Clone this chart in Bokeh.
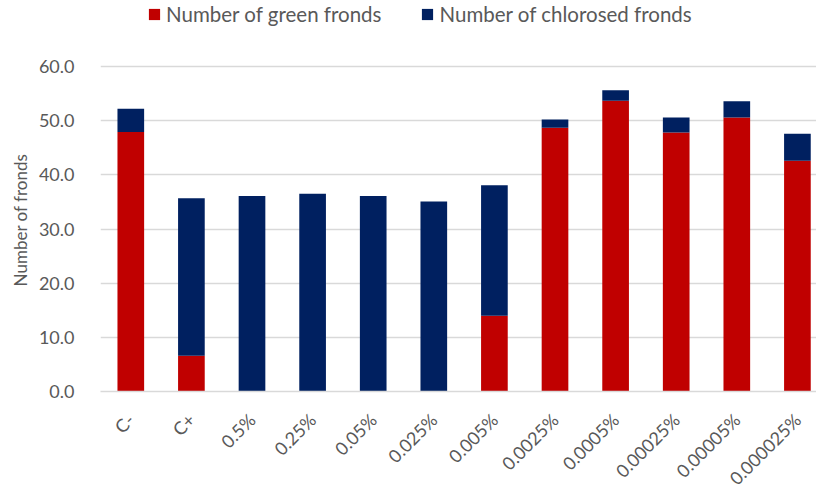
from math import pi
from bokeh.plotting import figure
from bokeh.models import Range1d, Legend, LegendItem, FixedTicker, Title
from bokeh.embed import file_html
from bokeh.resources import INLINE

categories = ["C-", "C+", "0.5%", "0.25%", "0.05%", "0.025%", "0.005%",
              "0.0025%", "0.0005%", "0.00025%", "0.00005%", "0.000025%"]
green = [47.9, 6.6, 0.0, 0.0, 0.0, 0.0, 14.0, 48.7, 53.7, 47.8, 50.6, 42.6]
chlorosed = [4.3, 29.1, 36.1, 36.5, 36.1, 35.1, 24.1, 1.5, 1.9, 2.8, 3.0, 5.0]
y_ticks = [0, 10, 20, 30, 40, 50, 60]
y_tick_labels = ["0.0", "10.0", "20.0", "30.0", "40.0", "50.0", "60.0"]
y_title = "Number of fronds"

RED = "#C00000"
NAVY = "#002060"
TXT = "#595959"
GRID = "#D9D9D9"
FONT = "Lato"

xs = list(range(len(categories)))
data = {"x": xs, "green": green, "chlorosed": chlorosed}

# frame spans the full top of the canvas; the extra headroom hosts the legend
p = figure(frame_width=716, frame_height=391, output_backend="svg",
           toolbar_location=None,
           x_range=Range1d(-0.5, 11.315), y_range=Range1d(0, 72.185),
           min_border_left=100, min_border_right=0, min_border_top=0,
           min_border_bottom=99)
p.outline_line_color = None
p.background_fill_color = "white"
p.border_fill_color = "white"

rs = p.vbar_stack(["green", "chlorosed"], x="x", width=0.44, source=data,
                  color=[RED, NAVY], line_color=None)

p.xgrid.grid_line_color = None
p.ygrid.grid_line_color = GRID
p.ygrid.grid_line_width = 1.5
p.ygrid.ticker = FixedTicker(ticks=y_ticks)

p.yaxis.ticker = FixedTicker(ticks=y_ticks)
p.yaxis.major_label_overrides = {t: l for t, l in zip(y_ticks, y_tick_labels)}
p.yaxis.axis_line_color = None
p.yaxis.major_tick_line_color = None
p.yaxis.minor_tick_line_color = None
p.yaxis.major_label_standoff = 20
p.yaxis.major_label_text_font = FONT
p.yaxis.major_label_text_font_size = "18px"
p.yaxis.major_label_text_color = TXT

# trailing no-break spaces shift the centred title down to sit like the reference
ytitle = Title(text=y_title + "\u00a0" * 11, align="center",
               text_font=FONT, text_font_size="17px", text_font_style="normal",
               text_color=TXT, standoff=10)
p.add_layout(ytitle, "left")

p.xaxis.ticker = FixedTicker(ticks=xs)
p.xaxis.major_label_overrides = {i: c for i, c in zip(xs, categories)}
p.xaxis.axis_line_color = GRID
p.xaxis.axis_line_width = 1.5
p.xaxis.major_tick_line_color = None
p.xaxis.minor_tick_line_color = None
p.xaxis.major_label_orientation = pi / 4
p.xaxis.major_label_standoff = 19
p.xaxis.major_label_text_font = FONT
p.xaxis.major_label_text_font_size = "18px"
p.xaxis.major_label_text_color = TXT

legend = Legend(items=[LegendItem(label="Number of green fronds", renderers=[rs[0]]),
                       LegendItem(label="Number of chlorosed fronds", renderers=[rs[1]])],
                orientation="horizontal", location=(47, 365),
                padding=0, margin=0, spacing=39,
                glyph_width=14, glyph_height=14, label_standoff=5, label_height=14,
                label_text_font=FONT, label_text_font_size="20.5px",
                label_text_color=TXT, border_line_color=None,
                background_fill_alpha=0)
p.add_layout(legend, "center")

open("out.html", "w").write(file_html(p, INLINE))
